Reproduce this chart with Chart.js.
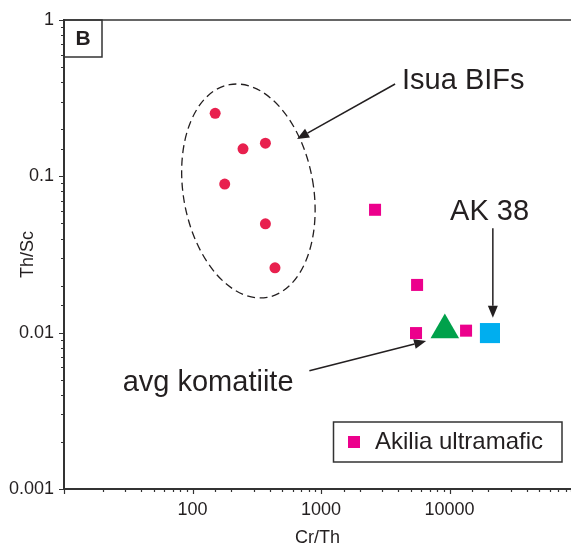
<!DOCTYPE html>
<html>
<head>
<meta charset="utf-8">
<script src="https://cdn.jsdelivr.net/npm/chart.js@4"></script>
<style>
  html, body { margin: 0; padding: 0; background: #fff; overflow: hidden; }
  canvas { display: block; }
</style>
</head>
<body>
<canvas id="chart" width="571" height="546"></canvas>
<script>
// ─── Datos (Cr/Th vs Th/Sc) ───────────────────────────────────────
const isuaCrTh      = [150, 247, 369, 178, 369, 438];
const isuaThSc      = [0.253, 0.150, 0.163, 0.0893, 0.0497, 0.026];
const akiliaCrTh    = [2630, 5585, 5480, 13430];
const akiliaThSc    = [0.0611, 0.0202, 0.00994, 0.0103];
const komatiiteCrTh = [9180];
const komatiiteThSc = [0.0104];
const ak38CrTh      = [20600];
const ak38ThSc      = [0.00994];

const xTickValues = [100, 1000, 10000];
const xTickLabels = ['100', '1000', '10000'];
const yTickValues = [0.001, 0.01, 0.1, 1];
const yTickLabels = ['0.001', '0.01', '0.1', '1'];

// anotaciones en unidades de datos
const notes = [
  { text: 'Isua BIFs',     x: 4266,  y: 0.362 },
  { text: 'AK 38',         x: 10090, y: 0.0525 },
  { text: 'avg komatiite', x: 28.6,  y: 0.00423 },
];
const arrows = [
  { from: [3767, 0.3896], to: [650, 0.1733] },
  { from: [21700, 0.0465], to: [21700, 0.01245] },
  { from: [811, 0.0057],  to: [6564, 0.00884] },
];
const isuaField = { cx: 272, cy: 0.0806, rxDec: 0.506, ryDec: 0.691, tilt: -10 };

const INK  = '#231f20';
const AXIS = '#333333';
const FONT = "'Liberation Sans', Arial, sans-serif";

const toPts = (xs, ys) => xs.map((x, i) => ({ x, y: ys[i] }));

function tickLabel(v, values, labels) {
  const i = values.findIndex(t => Math.abs(v / t - 1) < 1e-6);
  return i >= 0 ? labels[i] : '';
}
const isDecade = v => Math.abs(Math.log10(v) - Math.round(Math.log10(v))) < 1e-6;

function arrow(ctx, x1, y1, x2, y2) {
  const a = Math.atan2(y2 - y1, x2 - x1);
  const hl = 12, hw = 5;
  const bx = x2 - Math.cos(a) * hl, by = y2 - Math.sin(a) * hl;
  ctx.beginPath();
  ctx.moveTo(x1, y1);
  ctx.lineTo(bx, by);
  ctx.stroke();
  ctx.beginPath();
  ctx.moveTo(x2, y2);
  ctx.lineTo(bx - Math.sin(a) * hw, by + Math.cos(a) * hw);
  ctx.lineTo(bx + Math.sin(a) * hw, by - Math.cos(a) * hw);
  ctx.closePath();
  ctx.fill();
}

const decorations = {
  id: 'decorations',
  afterDraw(chart) {
    const { ctx, chartArea: area } = chart;
    const xs = chart.scales.x, ys = chart.scales.y;
    const px = v => xs.getPixelForValue(v);
    const py = v => ys.getPixelForValue(v);

    ctx.save();
    ctx.strokeStyle = AXIS;
    ctx.fillStyle = INK;

    // marcas de los ejes
    ctx.lineWidth = 1.2;
    ctx.beginPath();
    xs.ticks.forEach(t => {
      const x = Math.round(px(t.value)) + 0.5;
      const len = isDecade(t.value) ? 5 : 3;
      ctx.moveTo(x, area.bottom);
      ctx.lineTo(x, area.bottom + len);
    });
    ys.ticks.forEach(t => {
      const y = Math.round(py(t.value)) + 0.5;
      const len = isDecade(t.value) ? 5 : 3;
      ctx.moveTo(area.left - len, y);
      ctx.lineTo(area.left, y);
    });
    ctx.stroke();

    // borde superior
    ctx.lineWidth = 1.5;
    ctx.beginPath();
    ctx.moveTo(area.left, area.top);
    ctx.lineTo(area.right, area.top);
    ctx.stroke();

    // recuadro "B"
    ctx.strokeRect(area.left, area.top, 38, 37);
    ctx.font = `bold 21px ${FONT}`;
    ctx.textAlign = 'center';
    ctx.textBaseline = 'middle';
    ctx.fillText('B', area.left + 19, area.top + 19);

    // elipse punteada
    const cx = px(isuaField.cx), cy = py(isuaField.cy);
    const rx = px(isuaField.cx * Math.pow(10, isuaField.rxDec)) - cx;
    const ry = cy - py(isuaField.cy * Math.pow(10, isuaField.ryDec));
    ctx.lineWidth = 1.3;
    ctx.strokeStyle = INK;
    ctx.setLineDash([8, 4.5]);
    ctx.beginPath();
    ctx.ellipse(cx, cy, rx, ry, isuaField.tilt * Math.PI / 180, 0, Math.PI * 2);
    ctx.stroke();
    ctx.setLineDash([]);

    // flechas
    ctx.lineWidth = 1.5;
    arrows.forEach(a => arrow(ctx, px(a.from[0]), py(a.from[1]), px(a.to[0]), py(a.to[1])));

    // textos
    ctx.font = `29px ${FONT}`;
    ctx.textAlign = 'left';
    ctx.textBaseline = 'alphabetic';
    notes.forEach(n => ctx.fillText(n.text, px(n.x), py(n.y)));

    // leyenda
    const ds = chart.data.datasets[1];
    const lr = chart.width - 9, lb = area.bottom - 27;
    const lw = 228.5, lh = 40;
    ctx.lineWidth = 1.5;
    ctx.strokeStyle = AXIS;
    ctx.strokeRect(lr - lw, lb - lh, lw, lh);
    ctx.fillStyle = ds.backgroundColor;
    ctx.fillRect(lr - lw + 14.5, lb - lh / 2 - 6, 12, 12);
    ctx.fillStyle = INK;
    ctx.font = `24px ${FONT}`;
    ctx.fillText(ds.label, lr - lw + 41.5, lb - 13);
    ctx.restore();
  }
};

new Chart(document.getElementById('chart'), {
  type: 'scatter',
  data: {
    datasets: [
      { label: 'Isua BIFs', data: toPts(isuaCrTh, isuaThSc),
        backgroundColor: '#e8204e', pointStyle: 'circle', pointRadius: 5.5 },
      { label: 'Akilia ultramafic', data: toPts(akiliaCrTh, akiliaThSc),
        backgroundColor: '#ec008c', pointStyle: 'rect', pointRadius: 8.5 },
      { label: 'avg komatiite', data: toPts(komatiiteCrTh, komatiiteThSc),
        backgroundColor: '#00a14b', pointStyle: 'triangle', pointRadius: 16.5 },
      { label: 'AK 38', data: toPts(ak38CrTh, ak38ThSc),
        backgroundColor: '#00aeef', pointStyle: 'rect', pointRadius: 14.2 },
    ].map(d => ({ ...d, borderWidth: 0, pointBorderWidth: 0, pointHoverRadius: d.pointRadius })),
  },
  options: {
    responsive: false,
    animation: false,
    events: [],
    layout: { autoPadding: false, padding: { top: 20, right: 0, bottom: 0, left: 0 } },
    plugins: { legend: { display: false }, tooltip: { enabled: false } },
    scales: {
      x: {
        type: 'logarithmic',
        min: 10,
        max: 88000,
        grid: { display: false, tickLength: 0 },
        border: { display: true, color: AXIS, width: 2 },
        ticks: {
          autoSkip: false, maxRotation: 0, minRotation: 0, padding: 10,
          color: INK, font: { family: FONT, size: 18 },
          callback: v => tickLabel(v, xTickValues, xTickLabels),
        },
        title: { display: true, text: 'Cr/Th', color: INK,
                 font: { family: FONT, size: 18 }, padding: { top: 0, bottom: -3 } },
        afterFit: s => { s.height = 57; s.paddingLeft = 0; s.paddingRight = 0; },
      },
      y: {
        type: 'logarithmic',
        min: 0.001,
        max: 1,
        grid: { display: false, tickLength: 0 },
        border: { display: true, color: AXIS, width: 2 },
        ticks: {
          autoSkip: false, padding: 10,
          color: INK, font: { family: FONT, size: 18 },
          callback: v => tickLabel(v, yTickValues, yTickLabels),
        },
        title: { display: true, text: 'Th/Sc', color: INK,
                 font: { family: FONT, size: 18 }, padding: { top: 17.5, bottom: 0 } },
        afterFit: s => { s.width = 64; s.paddingTop = 0; s.paddingBottom = 0; },
      },
    },
  },
  plugins: [decorations],
});
</script>
</body>
</html>
